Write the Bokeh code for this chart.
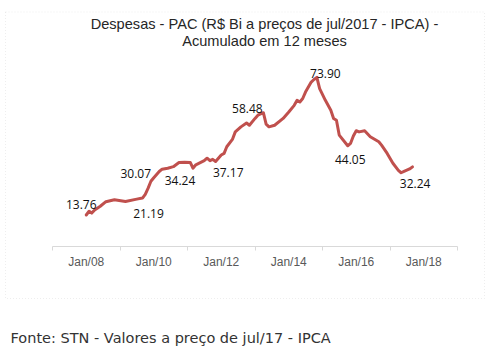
import pandas as pd
from bokeh.plotting import figure
from bokeh.models import Range1d, FixedTicker, DatetimeTickFormatter, Label, BoxAnnotation, ColumnDataSource
from bokeh.core.properties import value
from bokeh.embed import file_html
from bokeh.resources import INLINE

# ---- data ----
months = ["2008-01", "2008-02", "2008-03", "2008-04", "2008-06", "2008-08", "2008-11",
          "2009-03", "2009-07", "2009-09", "2009-10", "2009-11", "2009-12",
          "2010-01", "2010-03", "2010-04", "2010-06", "2010-08", "2010-10", "2010-12",
          "2011-02", "2011-03", "2011-04", "2011-07", "2011-08", "2011-09", "2011-10", "2011-11",
          "2012-01", "2012-02", "2012-03", "2012-05", "2012-06", "2012-08", "2012-10", "2012-11",
          "2013-01", "2013-02", "2013-04", "2013-05", "2013-06", "2013-08", "2013-11",
          "2014-01", "2014-03", "2014-04", "2014-05", "2014-06", "2014-07", "2014-09", "2014-10",
          "2014-11", "2014-12", "2015-02", "2015-04", "2015-05", "2015-06", "2015-07", "2015-10",
          "2015-11", "2015-12", "2016-01", "2016-02", "2016-04", "2016-06", "2016-09", "2016-10",
          "2016-12", "2017-02", "2017-04", "2017-05", "2017-06", "2017-08", "2017-09"]
values = [13.76, 15.4, 14.6, 16.0, 17.6, 19.6, 20.4,
          19.7, 20.7, 21.19, 22.8, 25.5, 28.5,
          30.07, 32.8, 33.8, 34.2, 34.9, 36.7, 36.8,
          36.7, 34.24, 35.7, 37.5, 38.6, 37.5, 38.1, 37.17,
          40.0, 40.7, 43.6, 46.8, 50.1, 52.3, 54.0, 53.0,
          56.0, 57.4, 58.48, 53.5, 52.3, 53.0, 56.0,
          58.8, 61.7, 63.9, 63.2, 64.7, 67.5, 71.9, 73.0,
          73.90, 69.0, 63.9, 59.6, 56.0, 55.2, 48.7, 44.05,
          45.1, 48.3, 50.6, 50.1, 50.6, 48.0, 45.8, 44.3,
          40.7, 36.4, 33.3, 32.24, 32.8, 33.9, 34.8]

label_months = ["2008-01", "2009-09", "2010-01", "2011-03", "2011-11",
                "2013-04", "2014-11", "2015-10", "2017-05"]
label_values = [13.76, 21.19, 30.07, 34.24, 37.17, 58.48, 73.90, 44.05, 32.24]

tick_years = [2008, 2010, 2012, 2014, 2016, 2018]
minor_years = [2007, 2009, 2011, 2013, 2015, 2017, 2019]

title_lines = ["Despesas - PAC (R$ Bi a preços de jul/2017 - IPCA) -", "Acumulado em 12 meses"]
footer = "Fonte: STN - Valores a preço de jul/17 - IPCA"

# ---- layout / styling (pixels) ----
label_dx = [-5, 6, -18, -13, 12.6, -16, 8.5, 2.5, 14]
label_dy = [-10.5, 15.5, -4, 12, 11.5, -4, -4, 14, 11]
W, H = 486, 347
AX_LEFT, AX_RIGHT = 52, 457      # pixel extent of the date axis
AX_Y = 246                       # pixel row of the value 0
PX_PER_UNIT = 2.2875

def ms(y):
    return pd.Timestamp(f"{y}-01-01").value // 10**6

ms_per_px = (ms(minor_years[-1]) - ms(minor_years[0])) / (AX_RIGHT - AX_LEFT)
x_start = ms(minor_years[0]) - AX_LEFT * ms_per_px
x_end = x_start + W * ms_per_px
y_end = AX_Y / PX_PER_UNIT
y_start = -(H - AX_Y) / PX_PER_UNIT

dates = pd.to_datetime(months)
ldates = pd.to_datetime(label_months)

p = figure(width=W, height=H, output_backend="svg", toolbar_location=None,
           x_axis_type="datetime",
           x_range=Range1d(x_start, x_end), y_range=Range1d(y_start, y_end),
           min_border=0, min_border_left=0, min_border_right=0, min_border_top=0, min_border_bottom=0)
p.background_fill_color = "white"
p.border_fill_color = "white"
p.outline_line_color = None
p.xgrid.grid_line_color = None
p.ygrid.grid_line_color = None
p.yaxis.visible = False

ax = p.xaxis[0]
ax.fixed_location = 0
ax.bounds = (ms(minor_years[0]), ms(minor_years[-1]))
ax.ticker = FixedTicker(ticks=[ms(y) for y in tick_years], minor_ticks=[ms(y) for y in minor_years])
fmt = "%b/%y"
ax.formatter = DatetimeTickFormatter(milliseconds=fmt, seconds=fmt, minsec=fmt, minutes=fmt,
                                     hourmin=fmt, hours=fmt, days=fmt, months=fmt, years=fmt)
ax.axis_line_color = "#d9d9d9"
ax.axis_line_width = 1
ax.major_tick_out = 0
ax.major_tick_in = 0
ax.minor_tick_out = 4
ax.minor_tick_in = 0
ax.minor_tick_line_color = "#d9d9d9"
ax.major_label_text_font = "Liberation Sans"
ax.major_label_text_font_size = "12px"
ax.major_label_text_color = "#595959"
ax.major_label_standoff = 4

p.line(dates, values, line_color="#C0504D", line_width=3, line_join="round", line_cap="round")

src = ColumnDataSource(dict(x=ldates, y=label_values, text=[f"{v:.2f}" for v in label_values],
                            dx=label_dx, dy=label_dy))
p.text(x="x", y="y", text="text", source=src, x_offset="dx", y_offset="dy",
       text_font=value("Open Sans"), text_font_size="12px", text_color="#111111",
       text_align="center", text_baseline="middle")

# chart border (dotted)
p.add_layout(BoxAnnotation(left=5, right=484, top=11.5, bottom=298,
                           left_units="canvas", right_units="canvas",
                           top_units="canvas", bottom_units="canvas",
                           fill_color=None, fill_alpha=0, line_color="#c8c8c8", line_width=1,
                           line_dash="1 2"))

# title (two lines)
for i, t in enumerate(title_lines):
    p.add_layout(Label(x=264, y=H - 23.5 - 16.5 * i, x_units="screen", y_units="screen", text=t,
                       text_align="center", text_baseline="alphabetic",
                       text_font="Liberation Sans", text_font_size="14.6px", text_color="#262626"))

p.add_layout(Label(x=10, y=H - 337.5, x_units="screen", y_units="screen", text=footer,
                   text_align="left", text_baseline="alphabetic",
                   text_font="DejaVu Sans", text_font_size="14.5px", text_color="#333333"))

open("out.html", "w").write(file_html(p, INLINE))
